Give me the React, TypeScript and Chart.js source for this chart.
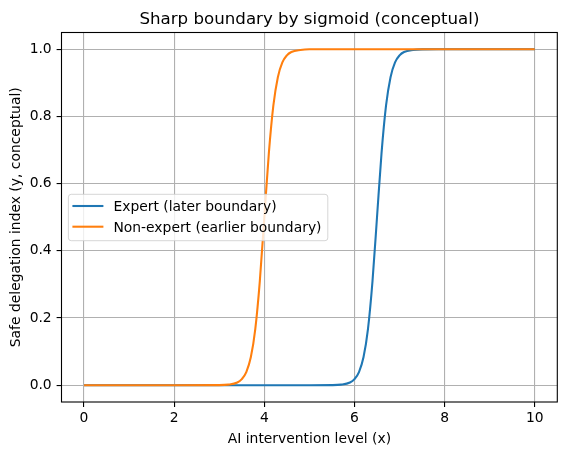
import { useEffect, useRef } from "react"
import { Chart, registerables } from "chart.js"

Chart.register(...registerables)

// ── Data ───────────────────────────────────────────────────
const TITLE = "Sharp boundary by sigmoid (conceptual)"
const X_LABEL = "AI intervention level (x)"
const Y_LABEL = "Safe delegation index (y, conceptual)"

const X_TICKS = [0, 2, 4, 6, 8, 10]
const Y_TICKS = [0, 0.2, 0.4, 0.6, 0.8, 1.0]

const EXPERT_LABEL = "Expert (later boundary)"
const EXPERT_X = [0, 1, 2, 3, 4, 5, 5.5, 5.7, 5.9, 6.0, 6.1, 6.2, 6.3, 6.4, 6.5, 6.6, 6.7, 6.8, 6.9, 7.0, 7.1, 7.3, 7.5, 8, 9, 10]
const EXPERT_Y = [0, 0, 0, 0, 0, 0, 0.0003, 0.0017, 0.008, 0.018, 0.039, 0.083, 0.168, 0.31, 0.5, 0.69, 0.832, 0.917, 0.961, 0.982, 0.992, 0.998, 0.9997, 1, 1, 1]

const NONEXP_LABEL = "Non-expert (earlier boundary)"
const NONEXP_X = [0, 1, 2, 3, 3.2, 3.4, 3.5, 3.6, 3.7, 3.8, 3.9, 4.0, 4.1, 4.2, 4.3, 4.4, 4.5, 4.6, 4.8, 5, 6, 7, 8, 9, 10]
const NONEXP_Y = [0, 0, 0, 0.0003, 0.0017, 0.008, 0.018, 0.039, 0.083, 0.168, 0.31, 0.5, 0.69, 0.832, 0.917, 0.961, 0.982, 0.992, 0.998, 1, 1, 1, 1, 1, 1]

// ── Theme (matplotlib defaults) ────────────────────────────
const BLUE = "#1f77b4"
const ORANGE = "#ff7f0e"
const GRID = "#b0b0b0"
const FONT = "'DejaVu Sans', sans-serif"
const TICK_PX = 13.89
const TITLE_PX = 16.67

const decorations = {
  id: "decorations",
  afterDraw(chart: any) {
    const { ctx, chartArea: a } = chart
    const cx = (a.left + a.right) / 2
    ctx.save()
    // frame
    ctx.strokeStyle = "#000"
    ctx.lineWidth = 1.1
    ctx.strokeRect(a.left, a.top, a.right - a.left, a.bottom - a.top)

    ctx.fillStyle = "#000"
    ctx.textBaseline = "alphabetic"
    ctx.textAlign = "center"
    ctx.font = `${TITLE_PX}px ${FONT}`
    ctx.fillText(TITLE, cx, 24)
    ctx.font = `${TICK_PX}px ${FONT}`
    ctx.fillText(X_LABEL, cx, 443.3)
    ctx.save()
    ctx.translate(20, (a.top + a.bottom) / 2)
    ctx.rotate(-Math.PI / 2)
    ctx.fillText(Y_LABEL, 0, 0)
    ctx.restore()

    // legend, center left
    const lx = a.left + 6.9
    const ly = 194.3
    ctx.beginPath()
    ctx.roundRect(lx, ly, 259.4, 46.4, 2.8)
    ctx.fillStyle = "rgba(255,255,255,0.8)"
    ctx.fill()
    ctx.strokeStyle = "rgba(204,204,204,0.8)"
    ctx.lineWidth = 1
    ctx.stroke()
    ctx.textAlign = "left"
    chart.data.datasets.forEach((ds: any, i: number) => {
      const base = 211 + i * 20.7
      ctx.strokeStyle = ds.borderColor
      ctx.lineWidth = 2.08
      ctx.beginPath()
      ctx.moveTo(lx + 4, base - 5)
      ctx.lineTo(lx + 35, base - 5)
      ctx.stroke()
      ctx.fillStyle = "#000"
      ctx.fillText(ds.label, lx + 45, base)
    })
    ctx.restore()
  },
}

export default function App() {
  const ref = useRef<HTMLCanvasElement>(null)
  useEffect(() => {
    if (!ref.current) return
    const chart = new Chart(ref.current, {
      type: "line",
      data: {
        datasets: [
          {
            label: EXPERT_LABEL,
            data: EXPERT_X.map((x, i) => ({ x, y: EXPERT_Y[i] })),
            borderColor: BLUE,
            backgroundColor: BLUE,
            borderWidth: 2.08,
            pointRadius: 0,
            cubicInterpolationMode: "monotone",
            order: 1,
          },
          {
            // drawn on top of the expert line, like matplotlib
            label: NONEXP_LABEL,
            data: NONEXP_X.map((x, i) => ({ x, y: NONEXP_Y[i] })),
            borderColor: ORANGE,
            backgroundColor: ORANGE,
            borderWidth: 2.08,
            pointRadius: 0,
            cubicInterpolationMode: "monotone",
            order: 0,
          },
        ],
      },
      options: {
        responsive: false,
        animation: false,
        devicePixelRatio: 1,
        layout: { padding: { top: 32.5, right: 9.7, left: 0, bottom: 0 } },
        plugins: {
          legend: { display: false },
          title: { display: false },
          tooltip: { enabled: false },
        },
        scales: {
          x: {
            type: "linear",
            min: -0.5,
            max: 10.5,
            afterBuildTicks: (s: any) => { s.ticks = X_TICKS.map(v => ({ value: v })) },
            afterFit: (s: any) => { s.height = 53 },
            ticks: {
              color: "#000",
              font: { family: FONT, size: TICK_PX },
              padding: 3,
              maxRotation: 0,
              callback: (v: any) => String(v),
            },
            grid: { color: GRID, lineWidth: 1.1, tickLength: 4.9, tickColor: "#000", tickWidth: 1.1 },
            border: { display: false },
          },
          y: {
            type: "linear",
            min: -0.05,
            max: 1.05,
            afterBuildTicks: (s: any) => { s.ticks = Y_TICKS.map(v => ({ value: v })) },
            afterFit: (s: any) => { s.width = 61.5 },
            ticks: {
              color: "#000",
              font: { family: FONT, size: TICK_PX },
              padding: 4.9,
              callback: (v: any) => Number(v).toFixed(1),
            },
            grid: { color: GRID, lineWidth: 1.1, tickLength: 4.9, tickColor: "#000", tickWidth: 1.1 },
            border: { display: false },
          },
        },
      },
      plugins: [decorations],
    })
    return () => chart.destroy()
  }, [])
  return (
    <div style={{ position: "absolute", left: 0, top: 0, width: 567, height: 455, background: "#fff" }}>
      <canvas ref={ref} width={567} height={455} />
    </div>
  )
}
